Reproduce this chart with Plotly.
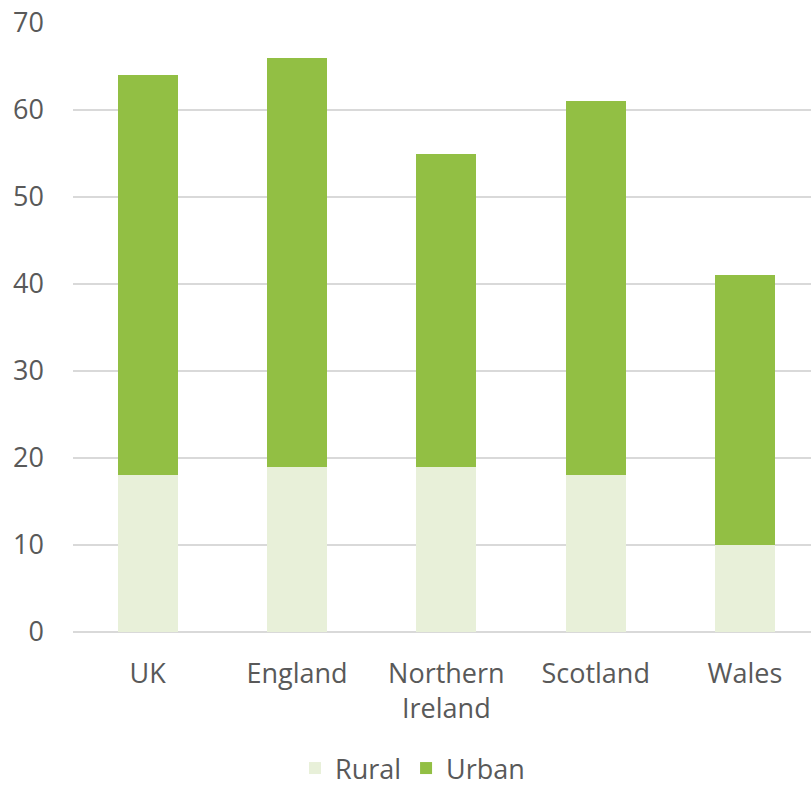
import plotly.graph_objects as go

categories = ["UK", "England", "Northern<br>Ireland", "Scotland", "Wales"]
rural = [18, 19, 19, 18, 10]
urban = [46, 47, 36, 43, 31]
y_ticks = [0, 10, 20, 30, 40, 50, 60, 70]

font_family = "Open Sans, Noto Sans, sans-serif"
text_color = "#595959"

fig = go.Figure()
fig.add_trace(go.Bar(x=categories, y=rural, name="Rural", marker=dict(color="#E8F0D9", line=dict(width=0))))
fig.add_trace(go.Bar(x=categories, y=urban, name="Urban", marker=dict(color="#92BF44", line=dict(width=0))))

fig.update_layout(
    barmode="stack",
    bargap=0.598,
    width=811, height=793,
    margin=dict(l=73, r=0, t=23, b=161, autoexpand=False),
    plot_bgcolor="white", paper_bgcolor="white",
    font=dict(family=font_family, size=27, color=text_color),
    showlegend=True,
    legend=dict(orientation="h", x=0.46, xanchor="center", xref="paper",
                y=0.0, yanchor="bottom", yref="container",
                font=dict(size=27, color=text_color), itemwidth=30, traceorder="normal"),
    xaxis=dict(range=[-0.5, 4.442], showgrid=False, showline=False, ticks="",
               ticklabelstandoff=23, tickfont=dict(size=27, color=text_color)),
    yaxis=dict(range=[0, 70], tickvals=y_ticks, showgrid=True, gridcolor="#D9D9D9", gridwidth=1.5,
               zeroline=True, zerolinecolor="#D9D9D9", zerolinewidth=1.5, showline=False, ticks="",
               ticklabelstandoff=28, tickfont=dict(size=27, color=text_color)),
)

fig.write_html("out.html")
